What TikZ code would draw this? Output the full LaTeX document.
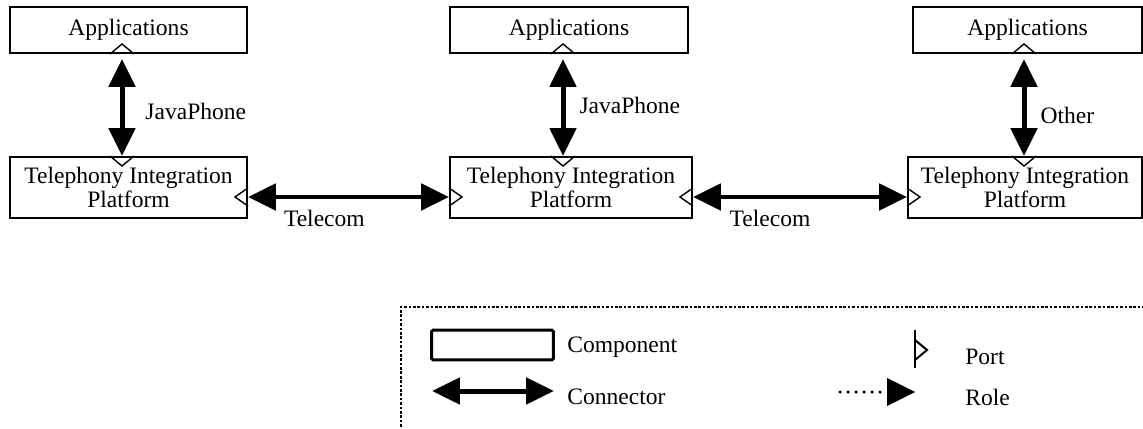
\documentclass[tikz,border=0pt]{standalone}
\usepackage{fontspec}
\setmainfont{Liberation Serif}
\usetikzlibrary{arrows.meta, calc}

\tikzset{
  comp/.style={draw, line width=1.1pt, inner sep=0pt, align=center,
    font=\fontsize{13.4}{13.2}\selectfont},
  conn/.style={line width=0.1cm,
    {Triangle[length=0.56cm,width=0.52cm]}-{Triangle[length=0.56cm,width=0.52cm]}},
  portline/.style={line width=0.8pt, line join=miter},
  lbl/.style={font=\fontsize{13.4}{14}\selectfont, inner sep=0pt}
}

\begin{document}
\begin{tikzpicture}[x=0.02cm, y=-0.02cm]
    \useasboundingbox (0,0) rectangle (1143,429);
    % components
    \node[comp, minimum width=4.74cm, minimum height=0.92cm] (app1) at (128.5,30) {Applications};
    \node[comp, minimum width=4.76cm, minimum height=0.92cm] (app2) at (569,30) {Applications};
    \node[comp, minimum width=4.58cm, minimum height=0.92cm] (app3) at (1027.5,30) {Applications};
    \node[comp, minimum width=4.74cm, minimum height=1.22cm] (tip1) at (128.5,187.5) {Telephony Integration\\Platform};
    \node[comp, minimum width=4.84cm, minimum height=1.22cm] (tip2) at (571,187.5) {Telephony Integration\\Platform};
    \node[comp, minimum width=4.68cm, minimum height=1.22cm] (tip3) at (1025,187.5) {Telephony Integration\\Platform};

    % ports
    \coordinate (a1p) at ($(app1.south)+(-6.5,0)$);
    \coordinate (a2p) at ($(app2.south)+(-6,0)$);
    \coordinate (a3p) at ($(app3.south)+(-3.5,0)$);
    \coordinate (t1n) at ($(tip1.north)+(-6.5,0)$);
    \coordinate (t2n) at ($(tip2.north)+(-8,0)$);
    \coordinate (t3n) at ($(tip3.north)+(-1,0)$);
    \coordinate (t1e) at ($(tip1.east)+(0,9.5)$);
    \coordinate (t2w) at ($(tip2.west)+(0,9.5)$);
    \coordinate (t2e) at ($(tip2.east)+(0,9.5)$);
    \coordinate (t3w) at ($(tip3.west)+(0,9.5)$);
    \foreach \c/\bx/\by/\ax/\ay in {a1p/12/0/0/-10, a2p/12/0/0/-10, a3p/12/0/0/-10,
        t1n/12/0/0/10, t2n/12/0/0/10, t3n/12/0/0/10,
        t1e/0/9/-13/0, t2e/0/9/-13/0, t2w/0/9/13/0, t3w/0/9/13/0}
      \draw[portline] ($(\c)+(\bx,\by)$) -- ($(\c)+(\ax,\ay)$) -- ($(\c)-(\bx,\by)$);

    % connectors
    \draw[conn, shorten <=0.1cm] (a1p) -- (t1n) node[lbl, pos=0.56, right=0.42cm] {JavaPhone};
    \draw[conn, shorten <=0.1cm] (a2p) -- (t2n) node[lbl, pos=0.5, right=0.28cm] {JavaPhone};
    \draw[conn, shorten <=0.1cm] (a3p) -- (t3n) node[lbl, pos=0.6, right=0.28cm] {Other};
    \draw[conn] (t1e) -- (t2w) node[lbl, pos=0.38, below=0.22cm] {Telecom};
    \draw[conn] (t2e) -- (t3w) node[lbl, pos=0.36, below=0.22cm] {Telecom};

    % legend
    \draw[line width=1pt, dash pattern=on 1.5pt off 1pt] (401,440) -- (401,307) -- (1160,307);
    \node[draw, line width=0.06cm, rounded corners=1pt, minimum width=2.44cm,
      minimum height=0.6cm] (legcomp) at (492.5,345) {};
    \node[lbl, anchor=west] at (567,347) {Component};
    \coordinate (legc1) at (432,391);
    \coordinate (legc2) at (554,391);
    \draw[conn] (legc1) -- (legc2);
    \node[lbl, anchor=west] at (567,397) {Connector};
    \draw[line width=0.05cm] (915,330) -- (915,368);
    \draw[portline, line width=0.04cm] (915,340) -- (927,350) -- (915,360);
    \node[lbl, anchor=west] at (965,357) {Port};
    \coordinate (legr1) at (840,392);
    \coordinate (legr2) at (915,392);
    \draw[line width=0.07cm, line cap=round, dash pattern=on 0pt off 0.16cm] (legr1) -- (887,392);
    \fill (887,378) -- (legr2) -- (887,406) -- cycle;
    \node[lbl, anchor=west] at (965,397) {Role};
  \end{tikzpicture}
\end{document}
